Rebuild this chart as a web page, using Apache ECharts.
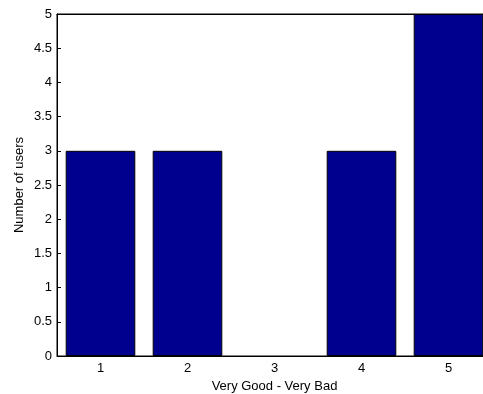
<!DOCTYPE html>
<html>
<head>
<meta charset="utf-8">
<script src="https://cdn.jsdelivr.net/npm/echarts@6/dist/echarts.min.js"></script>
<style>
  html, body { margin: 0; padding: 0; background: #fff; }
  #chart { width: 483px; height: 394px; }
</style>
</head>
<body>
<div id="chart"></div>
<script>
// ratings 1..5 and how many users picked each
const categories = ['1', '2', '3', '4', '5']
const userCounts = [3, 3, 0, 3, 5]
const yTicks = { min: 0, max: 5, interval: 0.5 }

const chart = echarts.init(document.getElementById('chart'))
const font = 'Liberation Sans, Arial, sans-serif'
const fs = 13

const option = {
  animation: false,
  backgroundColor: '#fff',
  grid: {
    left: 57,
    top: 14,
    width: 435,
    height: 342,
    outerBoundsMode: 'none',
    containLabel: false,
    show: true,
    borderColor: '#000',
    borderWidth: 1
  },
  xAxis: [
    {
      type: 'category',
      data: categories,
      position: 'bottom',
      name: 'Very Good - Very Bad',
      nameLocation: 'middle',
      nameGap: 22,
      nameTextStyle: { color: '#000', fontFamily: font, fontSize: fs },
      axisLine: { lineStyle: { color: '#000' } },
      axisTick: { inside: true, alignWithLabel: true, length: 4, lineStyle: { color: '#000' } },
      axisLabel: { color: '#000', fontFamily: font, fontSize: fs, margin: 6 }
    },
    {
      // top frame ticks, no labels
      type: 'category',
      data: categories,
      position: 'top',
      axisLine: { lineStyle: { color: '#000' } },
      axisTick: { inside: true, alignWithLabel: true, length: 4, lineStyle: { color: '#000' } },
      axisLabel: { show: false }
    }
  ],
  yAxis: [
    {
      type: 'value',
      min: yTicks.min,
      max: yTicks.max,
      interval: yTicks.interval,
      name: 'Number of users',
      nameLocation: 'middle',
      nameGap: 31,
      nameMoveOverlap: false,
      nameTextStyle: { color: '#000', fontFamily: font, fontSize: fs },
      axisLine: { show: true, lineStyle: { color: '#000' } },
      axisTick: { show: true, inside: true, length: 4, lineStyle: { color: '#000' } },
      axisLabel: { color: '#000', fontFamily: font, fontSize: fs, margin: 5 },
      splitLine: { show: false }
    }
  ],
  series: [
    {
      type: 'bar',
      // an empty bar gets no outline
      data: userCounts.map(v => v === 0 ? { value: v, itemStyle: { borderWidth: 0 } } : v),
      barCategoryGap: '20%',
      itemStyle: { color: '#00008F', borderColor: '#000', borderWidth: 1 }
    }
  ]
}
chart.setOption(option)
</script>
</body>
</html>
